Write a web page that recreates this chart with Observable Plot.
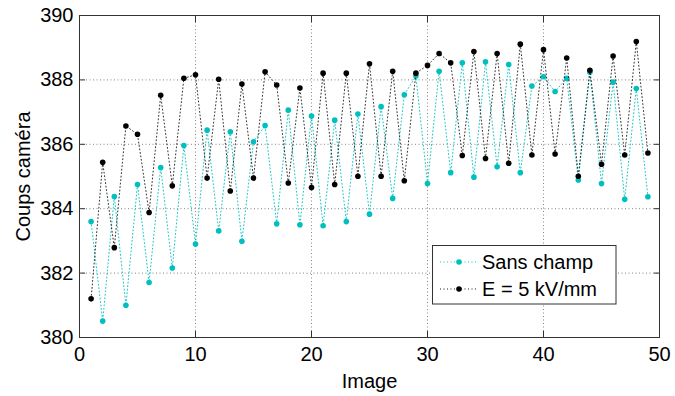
<!DOCTYPE html>
<html>
<head>
<meta charset="utf-8">
<script src="https://cdn.jsdelivr.net/npm/d3@7"></script>
<script src="https://cdn.jsdelivr.net/npm/@observablehq/plot@0.6"></script>
<style>
  html, body { margin: 0; padding: 0; background: #fff; }
  #chart { width: 675px; height: 396px; }
</style>
</head>
<body>
<div id="chart"></div>
<script>
const images = d3.range(1, 50);
const sansChamp = [383.60, 380.51, 384.38, 381.00, 384.75, 381.71, 385.28, 382.16, 385.96, 382.90,
  386.44, 383.31, 386.39, 382.99, 386.08, 386.58, 383.53, 387.06, 383.50, 386.88,
  383.47, 386.75, 383.60, 386.94, 383.83, 387.17, 384.32, 387.54, 388.12, 384.78,
  388.27, 385.12, 388.53, 384.98, 388.56, 385.30, 388.48, 385.12, 387.81, 388.10,
  387.64, 388.05, 384.89, 388.24, 384.78, 387.93, 384.29, 387.73, 384.37];
const avecChamp = [381.20, 385.44, 382.79, 386.57, 386.31, 383.88, 387.52, 384.71, 388.05, 388.16,
  384.95, 388.02, 384.55, 387.87, 384.95, 388.25, 387.84, 384.80, 387.75, 384.66,
  388.21, 384.75, 388.21, 385.01, 388.50, 385.01, 388.27, 384.87, 388.21, 388.45,
  388.82, 388.53, 385.65, 388.88, 385.56, 388.82, 385.41, 389.11, 385.67, 388.94,
  385.70, 388.68, 385.01, 388.30, 385.38, 388.74, 385.67, 389.19, 385.73];
const xTicks = [0, 10, 20, 30, 40, 50];
const yTicks = [380, 382, 384, 386, 388, 390];
const seriesNames = ["Sans champ", "E = 5 kV/mm"];
const seriesColors = ["#00bfbf", "#000000"];

const s1 = images.map((x, i) => ({x, y: sansChamp[i]}));
const s2 = images.map((x, i) => ({x, y: avecChamp[i]}));

const fontFamily = "'Liberation Sans', Arial, Helvetica, sans-serif";
const gridStyle = {stroke: "#666", strokeOpacity: 1, strokeWidth: 0.8, strokeDasharray: "1,2.5"};

const plot = Plot.plot({
  width: 675,
  height: 396,
  marginLeft: 79,
  marginRight: 16,
  marginTop: 15,
  marginBottom: 59,
  style: {fontFamily, fontSize: "20px", color: "#000", background: "#fff", overflow: "visible"},
  x: {domain: [0, 50]},
  y: {domain: [380, 390]},
  marks: [
    Plot.gridX(xTicks.slice(1, -1), gridStyle),
    Plot.gridY(yTicks.slice(1, -1), gridStyle),
    Plot.axisX(xTicks, {anchor: "bottom", tickSize: 0, tickPadding: 9, label: "Image", labelAnchor: "center", labelArrow: "none", labelOffset: 50}),
    Plot.axisY(yTicks, {anchor: "left", tickSize: 0, tickPadding: 6, label: "Coups caméra", labelAnchor: "center", labelArrow: "none", labelOffset: 64}),
    Plot.axisX(xTicks, {anchor: "bottom", tickSize: -6, tickFormat: () => "", label: null, stroke: "#333"}),
    Plot.axisX(xTicks, {anchor: "top", tickSize: -6, tickFormat: () => "", label: null, stroke: "#333"}),
    Plot.axisY(yTicks, {anchor: "left", tickSize: -6, tickFormat: () => "", label: null, stroke: "#333"}),
    Plot.axisY(yTicks, {anchor: "right", tickSize: -6, tickFormat: () => "", label: null, stroke: "#333"}),
    Plot.line(s1, {x: "x", y: "y", stroke: seriesColors[0], strokeWidth: 0.9, strokeDasharray: "1,2.5"}),
    Plot.dot(s1, {x: "x", y: "y", r: 2.8, fill: seriesColors[0], stroke: "none"}),
    Plot.line(s2, {x: "x", y: "y", stroke: seriesColors[1], strokeWidth: 0.8, strokeDasharray: "1,2.5"}),
    Plot.dot(s2, {x: "x", y: "y", r: 2.8, fill: seriesColors[1], stroke: "none"}),
    Plot.frame({stroke: "#333", strokeWidth: 1})
  ]
});

document.getElementById("chart").appendChild(plot);

// Legend (inside the plot, bottom right)
const svg = d3.select(plot);
const lg = svg.append("g").attr("font-family", fontFamily).attr("font-size", "20px").attr("text-anchor", "start");
lg.append("rect").attr("x", 432.5).attr("y", 245.5).attr("width", 183.5).attr("height", 58.5)
  .attr("fill", "#fff").attr("stroke", "#333").attr("stroke-width", 1);
const rowY = [262, 289];
seriesNames.forEach((name, i) => {
  lg.append("line").attr("x1", 440).attr("x2", 478).attr("y1", rowY[i]).attr("y2", rowY[i])
    .attr("stroke", seriesColors[i]).attr("stroke-width", 0.9).attr("stroke-dasharray", "1,2.5");
  lg.append("circle").attr("cx", 459).attr("cy", rowY[i]).attr("r", 2.8).attr("fill", seriesColors[i]);
  lg.append("text").attr("x", 482).attr("y", rowY[i]).attr("dy", "0.35em").attr("text-anchor", "start")
    .attr("fill", "#000").text(name);
});
</script>
</body>
</html>
